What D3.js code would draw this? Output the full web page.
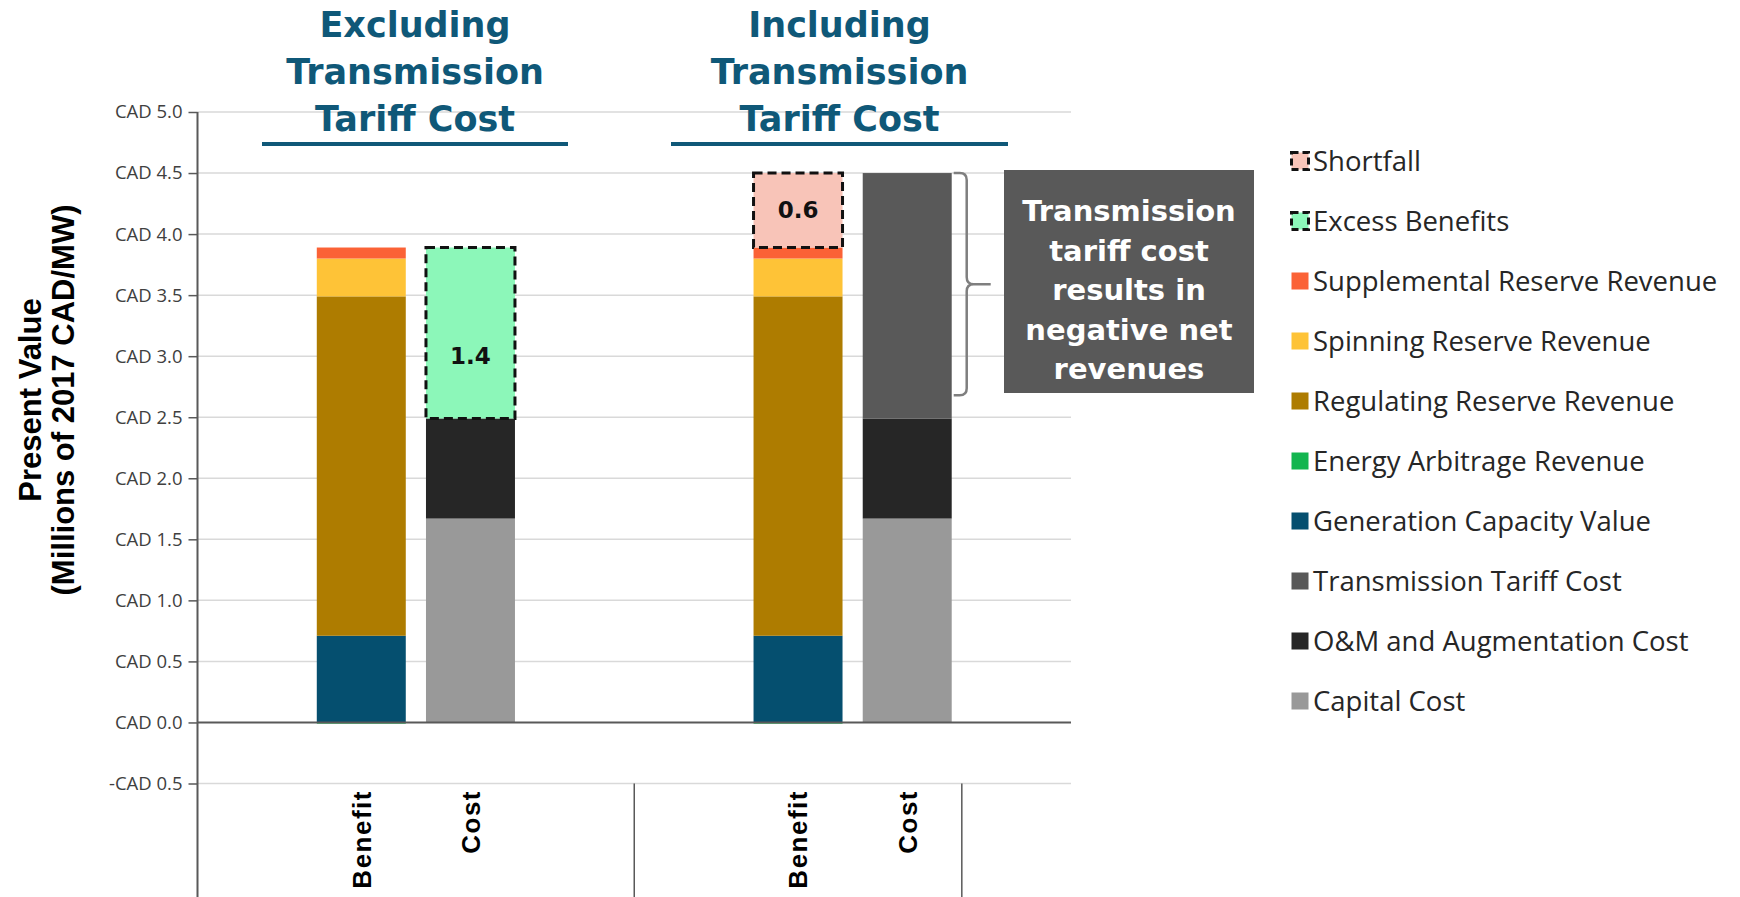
<!DOCTYPE html>
<html>
<head>
<meta charset="utf-8">
<script src="https://cdn.jsdelivr.net/npm/d3@7"></script>
<style>
  body { margin: 0; background: #fff; }
  svg { display: block; }
</style>
</head>
<body>
<div id="visualization"></div>
<script>
// Chart data (millions of 2017 CAD/MW)

let groupTitles = [
  ['Excluding', 'Transmission', 'Tariff Cost'],
  ['Including', 'Transmission', 'Tariff Cost']
]

// the category axis has 8 slots: blank, Benefit, Cost, blank | blank, Benefit, Cost | blank
let slots = ['g1-pad0', 'g1-Benefit', 'g1-Cost', 'g1-pad1', 'g2-pad0', 'g2-Benefit', 'g2-Cost', 'g3-pad0']
let barSlots = ['g1-Benefit', 'g1-Cost', 'g2-Benefit', 'g2-Cost']
let barLabels = ['Benefit', 'Cost', 'Benefit', 'Cost']
let groupSeparators = ['g1-pad1', 'g2-Cost']  // separator drawn after these slots

let energyArbitrage     = [-0.01, 0,    -0.01, 0]
let generationCapacity  = [0.71,  0,    0.71,  0]
let regulatingReserve   = [2.78,  0,    2.78,  0]
let spinningReserve     = [0.31,  0,    0.31,  0]
let supplementalReserve = [0.09,  0,    0.09,  0]
let capitalCost         = [0,     1.67, 0,     1.67]
let omCost              = [0,     0.82, 0,     0.82]
let transmissionTariff  = [0,     0,    0,     2.01]
let excessBenefits      = [0,     1.40, 0,     0]
let shortfall           = [0,     0,    0.61,  0]
// where the value label of each dashed box sits
let labelAt             = [null,  3.0,  4.2,   null]

let yTicks = [-0.5, 0, 0.5, 1.0, 1.5, 2.0, 2.5, 3.0, 3.5, 4.0, 4.5, 5.0]
let braceRange = [2.68, 4.5]

let seriesKeys = ['energyArbitrage', 'generationCapacity', 'regulatingReserve', 'spinningReserve',
  'supplementalReserve', 'capitalCost', 'omCost', 'transmissionTariff', 'excessBenefits', 'shortfall']
let seriesValues = {energyArbitrage, generationCapacity, regulatingReserve, spinningReserve,
  supplementalReserve, capitalCost, omCost, transmissionTariff, excessBenefits, shortfall}

let colors = {
  shortfall: '#f8c4b8',
  excessBenefits: '#8cf7b9',
  supplementalReserve: '#fb6236',
  spinningReserve: '#fec337',
  regulatingReserve: '#ae7c00',
  energyArbitrage: '#13b54f',
  generationCapacity: '#054f6f',
  transmissionTariff: '#595959',
  omCost: '#262626',
  capitalCost: '#999999'
}
let dashedKeys = ['shortfall', 'excessBenefits']

let legendItems = [
  ['shortfall', 'Shortfall'],
  ['excessBenefits', 'Excess Benefits'],
  ['supplementalReserve', 'Supplemental Reserve Revenue'],
  ['spinningReserve', 'Spinning Reserve Revenue'],
  ['regulatingReserve', 'Regulating Reserve Revenue'],
  ['energyArbitrage', 'Energy Arbitrage Revenue'],
  ['generationCapacity', 'Generation Capacity Value'],
  ['transmissionTariff', 'Transmission Tariff Cost'],
  ['omCost', 'O&M and Augmentation Cost'],
  ['capitalCost', 'Capital Cost']
]

let noteLines = ['Transmission', 'tariff cost', 'results in', 'negative net', 'revenues']

// Set up size
let width = 1740
let height = 897
let plotLeft = 197.5
let plotRight = 1071
let titleColor = '#0f5878'

let svg = d3.select('#visualization').append('svg')
  .attr('width', width)
  .attr('height', height)

let x = d3.scaleBand()
  .domain(slots)
  .range([plotLeft, plotRight])
  .padding(0)

let y = d3.scaleLinear()
  .domain([-0.5, 5.0])
  .range([783.5, 112])

let barWidth = x.bandwidth() * 0.815

// gridlines
svg.append('g')
  .selectAll('line')
  .data(yTicks.filter(d => d !== 0))
  .join('line')
  .attr('x1', plotLeft)
  .attr('x2', plotRight)
  .attr('y1', d => y(d))
  .attr('y2', d => y(d))
  .attr('stroke', '#d9d9d9')
  .attr('stroke-width', 1.5)

// stacked bars
let table = barSlots.map((slot, i) => {
  let row = {slot: slot, labelAt: labelAt[i]}
  seriesKeys.forEach(k => { row[k] = seriesValues[k][i] })
  return row
})

let stacked = d3.stack()
  .keys(seriesKeys)
  .offset(d3.stackOffsetDiverging)(table)

let layers = svg.append('g')
  .selectAll('g')
  .data(stacked)
  .join('g')
  .attr('fill', d => colors[d.key])

layers.selectAll('rect')
  .data(d => d.filter(p => p[1] !== p[0]).map(p => Object.assign(p, {key: d.key})))
  .join('rect')
  .attr('x', d => x(d.data.slot) + (x.bandwidth() - barWidth) / 2)
  .attr('width', barWidth)
  .attr('y', d => y(Math.max(d[0], d[1])))
  .attr('height', d => Math.abs(y(d[0]) - y(d[1])))
  .attr('stroke', d => dashedKeys.includes(d.key) ? '#111' : 'none')
  .attr('stroke-width', 3)
  .attr('stroke-dasharray', '9,5')

// value labels on the dashed boxes
svg.append('g')
  .selectAll('text')
  .data(stacked.filter(s => dashedKeys.includes(s.key)).flatMap(s => s.filter(p => p[1] !== p[0])))
  .join('text')
  .attr('x', d => x(d.data.slot) + x.bandwidth() / 2)
  .attr('y', d => y(d.data.labelAt))
  .attr('dy', '0.36em')
  .attr('text-anchor', 'middle')
  .attr('font-family', 'DejaVu Sans')
  .attr('font-weight', 'bold')
  .attr('font-size', 23)
  .attr('fill', '#111')
  .text(d => d3.format('.1f')(d[1] - d[0]))

// zero line
svg.append('line')
  .attr('x1', plotLeft)
  .attr('x2', plotRight)
  .attr('y1', y(0))
  .attr('y2', y(0))
  .attr('stroke', '#595959')
  .attr('stroke-width', 2)

// y axis
let yAxis = svg.append('g')
  .attr('transform', `translate(${plotLeft},0)`)
  .call(d3.axisLeft(y)
    .tickValues(yTicks)
    .tickSize(9)
    .tickPadding(6)
    .tickFormat(d => (d < 0 ? '-' : '') + 'CAD ' + d3.format('.1f')(Math.abs(d))))

yAxis.select('.domain').remove()
yAxis.selectAll('.tick line').attr('stroke', '#595959').attr('stroke-width', 1.5)
yAxis.selectAll('.tick text')
  .attr('font-family', "'Liberation Sans Narrow', 'Open Sans', sans-serif")
  .attr('font-size', 18.5)
  .attr('fill', '#404040')

svg.append('line')
  .attr('x1', plotLeft)
  .attr('x2', plotLeft)
  .attr('y1', y(5.0))
  .attr('y2', height)
  .attr('stroke', '#595959')
  .attr('stroke-width', 2)

// category separators below the plot
svg.append('g')
  .selectAll('line')
  .data(groupSeparators)
  .join('line')
  .attr('x1', d => x(d) + x.bandwidth())
  .attr('x2', d => x(d) + x.bandwidth())
  .attr('y1', y(-0.5))
  .attr('y2', height)
  .attr('stroke', '#595959')
  .attr('stroke-width', 1.5)

// category labels
svg.append('g')
  .selectAll('text')
  .data(barSlots)
  .join('text')
  .attr('transform', d => `translate(${x(d) + x.bandwidth() / 2},790) rotate(-90)`)
  .attr('dy', '0.36em')
  .attr('text-anchor', 'end')
  .attr('font-family', 'Liberation Sans')
  .attr('font-weight', 'bold')
  .attr('font-size', 26)
  .attr('letter-spacing', 1.5)
  .attr('fill', '#000')
  .text((d, i) => barLabels[i])

// y axis title
svg.append('text')
  .attr('transform', 'translate(41,400) rotate(-90)')
  .attr('text-anchor', 'middle')
  .attr('font-family', 'Liberation Sans')
  .attr('font-weight', 'bold')
  .attr('font-size', 31)
  .attr('fill', '#000')
  .selectAll('tspan')
  .data(['Present Value', '(Millions of 2017 CAD/MW)'])
  .join('tspan')
  .attr('x', 0)
  .attr('y', (d, i) => i * 33)
  .text(d => d)

// group titles with underline
let titleSpans = [[262, 568], [671, 1008]]
groupTitles.forEach((lines, i) => {
  let [x0, x1] = titleSpans[i]
  let cx = (x0 + x1) / 2
  svg.append('text')
    .attr('text-anchor', 'middle')
    .attr('font-family', 'DejaVu Sans')
    .attr('font-weight', 'bold')
    .attr('font-size', 35)
    .attr('fill', titleColor)
    .selectAll('tspan')
    .data(lines)
    .join('tspan')
    .attr('x', cx)
    .attr('y', (d, j) => 37 + j * 47)
    .text(d => d)
  svg.append('line')
    .attr('x1', x0)
    .attr('x2', x1)
    .attr('y1', 144)
    .attr('y2', 144)
    .attr('stroke', titleColor)
    .attr('stroke-width', 4)
})

// brace next to the transmission tariff bar
let bx0 = x('g2-Cost') + (x.bandwidth() + barWidth) / 2 + 2
let bx1 = bx0 + 13
let bTop = y(braceRange[1])
let bBot = y(braceRange[0])
let bMid = (bTop + bBot) / 2
let r = 7
svg.append('path')
  .attr('d', `M${bx0},${bTop} L${bx1 - r},${bTop} Q${bx1},${bTop} ${bx1},${bTop + r}
    L${bx1},${bMid - r} Q${bx1},${bMid} ${bx1 + r},${bMid} L${bx1 + 24},${bMid}
    M${bx1 + r},${bMid} Q${bx1},${bMid} ${bx1},${bMid + r}
    L${bx1},${bBot - r} Q${bx1},${bBot} ${bx1 - r},${bBot} L${bx0},${bBot}`)
  .attr('fill', 'none')
  .attr('stroke', '#7f7f7f')
  .attr('stroke-width', 2.5)

// annotation box
svg.append('rect')
  .attr('x', 1004)
  .attr('y', 170)
  .attr('width', 250)
  .attr('height', 223)
  .attr('fill', '#595959')

svg.append('text')
  .attr('text-anchor', 'middle')
  .attr('font-family', 'DejaVu Sans')
  .attr('font-weight', 'bold')
  .attr('font-size', 29)
  .attr('fill', '#fff')
  .selectAll('tspan')
  .data(noteLines)
  .join('tspan')
  .attr('x', 1129)
  .attr('y', (d, i) => 221 + i * 39.5)
  .text(d => d)

// legend
let legend = svg.append('g')
  .selectAll('g')
  .data(legendItems)
  .join('g')
  .attr('transform', (d, i) => `translate(1290,${161 + i * 60})`)

legend.append('rect')
  .attr('x', 1.5)
  .attr('y', -8.5)
  .attr('width', 17)
  .attr('height', 17)
  .attr('fill', d => colors[d[0]])
  .attr('stroke', d => dashedKeys.includes(d[0]) ? '#111' : 'none')
  .attr('stroke-width', 3)
  .attr('stroke-dasharray', '7,4')

legend.append('text')
  .attr('x', 23)
  .attr('dy', '0.35em')
  .attr('font-family', 'Open Sans')
  .attr('font-size', 27.5)
  .attr('fill', '#262626')
  .text(d => d[1])
</script>
</body>
</html>
